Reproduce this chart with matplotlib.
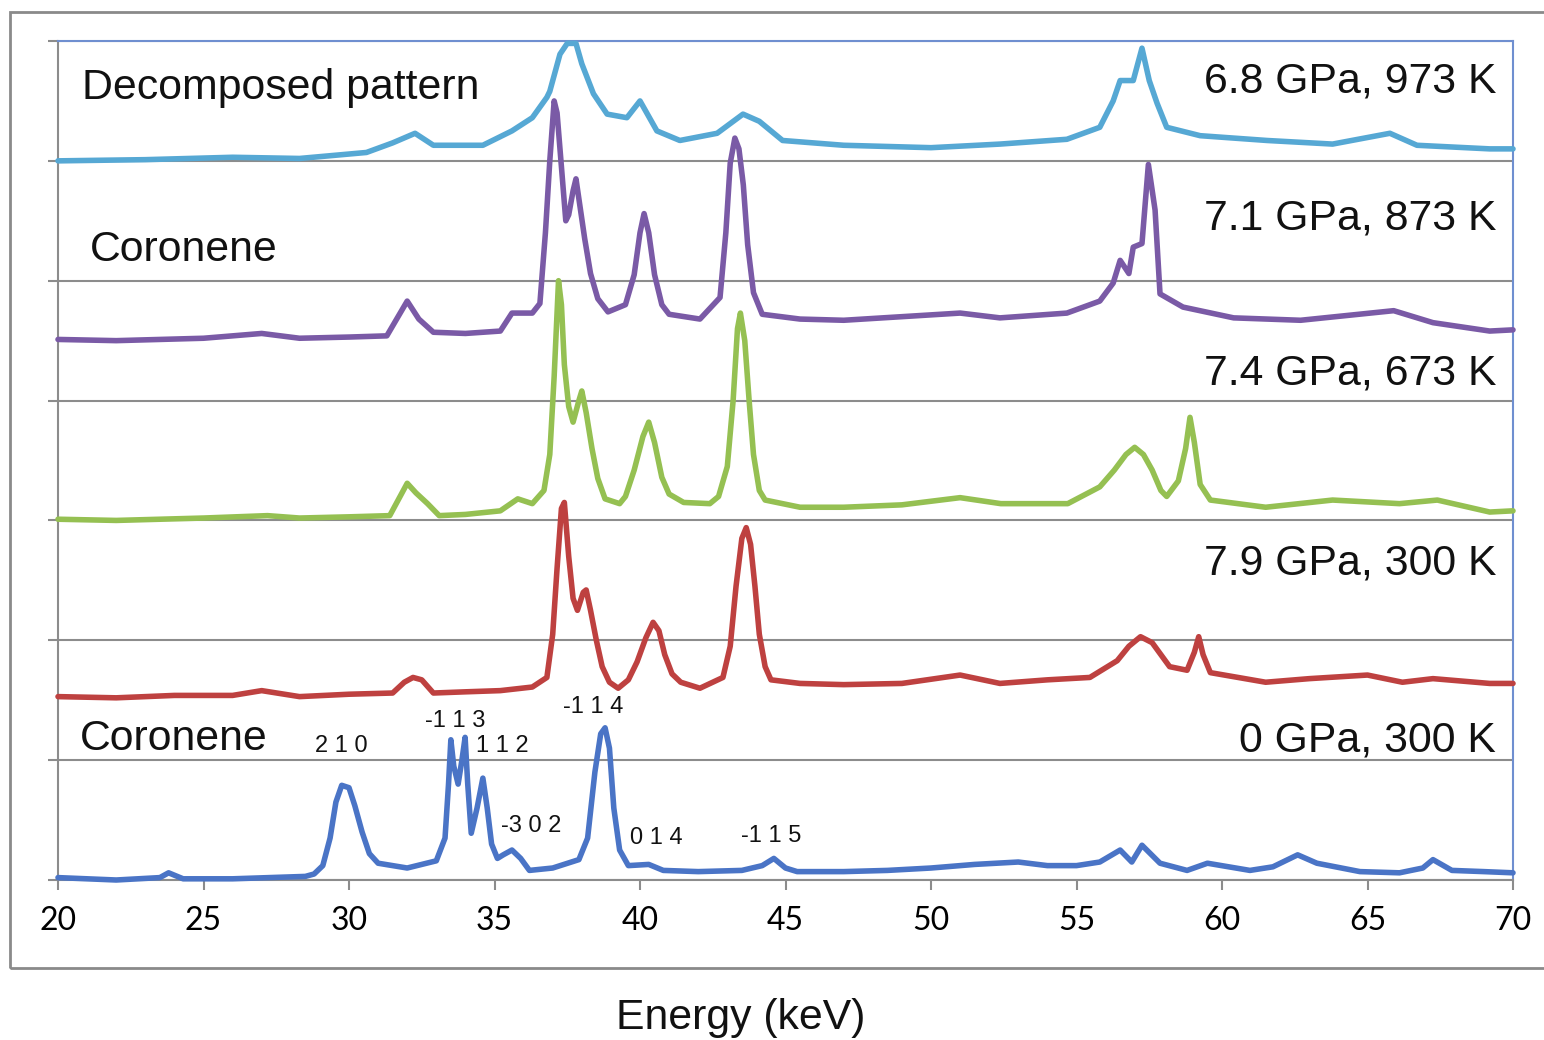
import matplotlib.pyplot as plt
from matplotlib.patches import Rectangle

# Stacked energy-dispersive patterns of coronene (intensity in arbitrary units,
# each pattern shifted by its offset)

# 0 GPa, 300 K
e_0gpa = [20.0, 22.0, 23.5, 23.8, 24.3, 26.0, 28.5, 28.8, 29.1, 29.35, 29.55, 29.75,
          30.0, 30.2, 30.45, 30.7, 31.0, 32.0, 33.0, 33.3, 33.42, 33.5, 33.6, 33.75,
          33.88, 33.99, 34.08, 34.2, 34.4, 34.6, 34.75, 34.9, 35.1, 35.3, 35.6, 35.9,
          36.2, 37.0, 37.9, 38.2, 38.45, 38.65, 38.8, 38.95, 39.1, 39.3, 39.6, 40.3,
          40.8, 42.0, 43.5, 44.2, 44.6, 45.0, 45.4, 47.0, 48.5, 50.0, 51.5, 53.0,
          54.0, 55.0, 55.8, 56.5, 56.9, 57.25, 57.87, 58.8, 59.5, 60.96, 61.75, 62.6,
          63.26, 64.74, 66.1, 66.9, 67.25, 67.9, 69.0, 70.0]
i_0gpa = [0.02, 0.00, 0.02, 0.06, 0.01, 0.01, 0.03, 0.05, 0.12, 0.35, 0.65, 0.79,
          0.77, 0.62, 0.40, 0.22, 0.14, 0.10, 0.16, 0.35, 0.80, 1.17, 0.95, 0.80,
          1.00, 1.19, 0.80, 0.39, 0.60, 0.85, 0.60, 0.30, 0.18, 0.21, 0.25, 0.18,
          0.08, 0.10, 0.17, 0.35, 0.90, 1.22, 1.27, 1.10, 0.60, 0.25, 0.12, 0.13,
          0.08, 0.07, 0.08, 0.12, 0.18, 0.10, 0.07, 0.07, 0.08, 0.10, 0.13, 0.15,
          0.12, 0.12, 0.15, 0.25, 0.15, 0.29, 0.14, 0.08, 0.14, 0.08, 0.11, 0.21,
          0.14, 0.07, 0.06, 0.10, 0.17, 0.08, 0.07, 0.06]

# 7.9 GPa, 300 K
e_79gpa = [20.0, 22.0, 24.0, 26.0, 27.0, 28.3, 30.0, 31.5, 31.9, 32.2, 32.5, 32.9,
           34.0, 35.2, 36.3, 36.8, 37.0, 37.15, 37.3, 37.4, 37.55, 37.7, 37.85, 38.05,
           38.15, 38.3, 38.5, 38.7, 38.95, 39.25, 39.6, 39.9, 40.2, 40.45, 40.65, 40.85,
           41.1, 41.4, 42.06, 42.85, 43.1, 43.3, 43.5, 43.65, 43.8, 43.95, 44.1, 44.3,
           44.5, 45.5, 47.0, 49.0, 51.0, 52.37, 54.0, 55.46, 56.4, 56.8, 57.2, 57.6,
           57.9, 58.2, 58.8, 59.05, 59.2, 59.35, 59.6, 61.5, 63.0, 65.0, 66.2, 67.25,
           69.2, 70.0]
i_79gpa = [0.03, 0.02, 0.04, 0.04, 0.08, 0.03, 0.05, 0.06, 0.15, 0.19, 0.17, 0.06,
           0.07, 0.08, 0.11, 0.19, 0.55, 1.10, 1.60, 1.65, 1.20, 0.85, 0.75, 0.90,
           0.92, 0.75, 0.50, 0.28, 0.15, 0.10, 0.17, 0.32, 0.52, 0.65, 0.58, 0.38,
           0.22, 0.15, 0.10, 0.19, 0.45, 0.95, 1.35, 1.44, 1.30, 0.95, 0.55, 0.28,
           0.17, 0.14, 0.13, 0.14, 0.21, 0.14, 0.17, 0.19, 0.33, 0.45, 0.53, 0.48,
           0.38, 0.28, 0.25, 0.40, 0.53, 0.38, 0.23, 0.15, 0.18, 0.21, 0.15, 0.18,
           0.14, 0.14]

# 7.4 GPa, 673 K
e_74gpa = [20.0, 22.0, 25.0, 27.2, 28.3, 30.0, 31.4, 32.0, 32.3, 32.7, 33.1, 34.0,
           35.2, 35.8, 36.3, 36.7, 36.9, 37.05, 37.2, 37.3, 37.4, 37.55, 37.7, 37.9,
           38.0, 38.15, 38.35, 38.55, 38.8, 39.3, 39.5, 39.8, 40.1, 40.3, 40.5, 40.75,
           41.0, 41.5, 42.4, 42.7, 43.0, 43.2, 43.35, 43.45, 43.6, 43.75, 43.9, 44.1,
           44.3, 45.5, 47.0, 49.0, 51.0, 52.4, 54.7, 55.8, 56.3, 56.7, 57.0, 57.3,
           57.6, 57.9, 58.1, 58.5, 58.75, 58.9, 59.05, 59.25, 59.6, 61.5, 63.8, 66.1,
           67.4, 69.2, 70.0]
i_74gpa = [0.01, 0.00, 0.02, 0.04, 0.02, 0.03, 0.04, 0.31, 0.23, 0.14, 0.04, 0.05,
           0.08, 0.18, 0.14, 0.25, 0.55, 1.20, 2.00, 1.80, 1.30, 0.95, 0.82, 1.00,
           1.08, 0.90, 0.60, 0.35, 0.18, 0.14, 0.20, 0.42, 0.70, 0.82, 0.65, 0.36,
           0.22, 0.15, 0.14, 0.20, 0.45, 1.00, 1.60, 1.73, 1.50, 1.00, 0.55, 0.25,
           0.17, 0.11, 0.11, 0.13, 0.19, 0.14, 0.14, 0.28, 0.42, 0.55, 0.61, 0.55,
           0.42, 0.25, 0.20, 0.33, 0.60, 0.86, 0.65, 0.30, 0.17, 0.11, 0.17, 0.14,
           0.17, 0.07, 0.08]

# 7.1 GPa, 873 K
e_71gpa = [20.0, 22.0, 25.0, 27.0, 28.3, 30.0, 31.3, 32.0, 32.4, 32.9, 34.0, 35.2,
           35.6, 36.3, 36.56, 36.75, 36.9, 37.05, 37.15, 37.3, 37.45, 37.55, 37.7, 37.8,
           37.95, 38.1, 38.3, 38.55, 38.9, 39.5, 39.8, 40.0, 40.14, 40.3, 40.5, 40.75,
           41.0, 42.06, 42.75, 42.95, 43.1, 43.26, 43.4, 43.55, 43.7, 43.9, 44.2, 45.5,
           47.0, 49.0, 51.0, 52.37, 54.67, 55.8, 56.26, 56.5, 56.8, 56.95, 57.25, 57.47,
           57.7, 57.87, 58.66, 60.4, 62.7, 65.9, 67.25, 69.2, 70.0]
i_71gpa = [0.01, 0.00, 0.02, 0.06, 0.02, 0.03, 0.04, 0.33, 0.18, 0.07, 0.06, 0.08,
           0.23, 0.23, 0.31, 0.90, 1.50, 2.00, 1.90, 1.45, 1.00, 1.05, 1.25, 1.35,
           1.10, 0.85, 0.56, 0.35, 0.24, 0.30, 0.55, 0.90, 1.06, 0.90, 0.55, 0.30,
           0.22, 0.18, 0.36, 0.90, 1.48, 1.69, 1.60, 1.30, 0.80, 0.40, 0.22, 0.18,
           0.17, 0.20, 0.23, 0.19, 0.23, 0.33, 0.48, 0.67, 0.56, 0.78, 0.81, 1.47,
           1.09, 0.39, 0.28, 0.19, 0.17, 0.25, 0.15, 0.08, 0.09]

# 6.8 GPa, 973 K (decomposed)
e_68gpa = [20.0, 23.0, 26.0, 28.3, 30.6, 31.5, 32.27, 32.9, 34.6, 35.6, 36.3, 36.8,
           36.9, 37.25, 37.5, 37.8, 38.0, 38.4, 38.87, 39.55, 40.0, 40.58, 41.37, 42.65,
           43.54, 44.1, 44.9, 47.0, 50.0, 52.37, 54.67, 55.8, 56.26, 56.5, 56.95, 57.25,
           57.5, 57.77, 58.1, 59.25, 61.55, 63.8, 65.77, 66.7, 69.2, 70.0]
i_68gpa = [0.00, 0.01, 0.03, 0.02, 0.07, 0.15, 0.23, 0.13, 0.13, 0.25, 0.36, 0.53,
           0.58, 0.89, 0.98, 0.98, 0.81, 0.56, 0.39, 0.36, 0.50, 0.25, 0.17, 0.23,
           0.39, 0.33, 0.17, 0.13, 0.11, 0.14, 0.18, 0.28, 0.50, 0.67, 0.67, 0.94,
           0.67, 0.48, 0.28, 0.21, 0.17, 0.14, 0.23, 0.13, 0.10, 0.10]

offsets = [0.0, 1.5, 3.0, 4.5, 6.0]
conditions = ["0 GPa, 300 K", "7.9 GPa, 300 K", "7.4 GPa, 673 K",
              "7.1 GPa, 873 K", "6.8 GPa, 973 K"]
colors = ["#4A74C6", "#BE4140", "#95C052", "#7A5AA6", "#56A8D4"]

# Miller indices of the ambient pattern
hkl_labels = ["2 1 0", "-1 1 3", "1 1 2", "-3 0 2", "-1 1 4", "0 1 4", "-1 1 5"]
hkl_x = [29.73, 33.64, 35.26, 36.25, 38.38, 40.55, 44.5]
hkl_y = [1.12, 1.33, 1.12, 0.45, 1.44, 0.35, 0.37]

W, H = 1544, 1040
fig = plt.figure(figsize=(W / 100, H / 100), dpi=100)
fig.patch.set_facecolor("white")
ax = fig.add_axes([58 / W, 1 - 880 / H, (1513 - 58) / W, (880 - 41) / H])

series = [(e_68gpa, i_68gpa, 4), (e_71gpa, i_71gpa, 3), (e_74gpa, i_74gpa, 2),
          (e_79gpa, i_79gpa, 1), (e_0gpa, i_0gpa, 0)]
for e, inten, k in series:
    ax.plot(e, [v + offsets[k] for v in inten], color=colors[k],
            linewidth=4.0, solid_joinstyle="round", solid_capstyle="round",
            zorder=3, clip_on=False)

ax.set_xlim(20, 70)
ax.set_ylim(0, 7)
ax.set_xticks(range(20, 71, 5))
ax.set_yticks(range(0, 8))
ax.set_yticklabels([])
ax.grid(True, axis="y", color="#8C8C8C", linewidth=1.5, zorder=1)
ax.set_axisbelow(True)
ax.tick_params(axis="x", direction="out", length=7, width=1.5, color="#8C8C8C",
               labelsize=23, pad=12)
ax.tick_params(axis="y", direction="out", length=7, width=1.5, color="#8C8C8C")
for lbl in ax.get_xticklabels():
    lbl.set_fontfamily("Lato")

for side in ["left", "bottom"]:
    ax.spines[side].set_color("#8C8C8C")
    ax.spines[side].set_linewidth(1.5)
for side in ["top", "right"]:
    ax.spines[side].set_color("#6F8FD0")
    ax.spines[side].set_linewidth(1.5)

# Condition labels, right aligned
cond_y = [1.16, 2.64, 4.23, 5.52, 6.66]
for k, txt in enumerate(conditions):
    ax.text(69.42, cond_y[k], txt, ha="right", va="center", fontsize=30.8,
            family="Liberation Sans", color="#111111")

ax.text(20.82, 6.61, "Decomposed pattern", ha="left", va="center", fontsize=30.8,
        family="Liberation Sans", color="#111111")
ax.text(21.1, 5.26, "Coronene", ha="left", va="center", fontsize=30.8,
        family="Liberation Sans", color="#111111")
ax.text(20.76, 1.18, "Coronene", ha="left", va="center", fontsize=30.8,
        family="Liberation Sans", color="#111111")

for txt, x, y in zip(hkl_labels, hkl_x, hkl_y):
    ax.text(x, y, txt, ha="center", va="center", fontsize=17,
            family="Liberation Sans", color="#111111")

fig.text(741 / W, 1 - 1018 / H, "Energy (keV)", ha="center", va="center",
         fontsize=30.8, family="Liberation Sans", color="#111111")

# outer chart frame
fig.patches.append(Rectangle((10 / W, 1 - 968 / H), 1.05, (968 - 12) / H,
                             transform=fig.transFigure, fill=False,
                             edgecolor="#8A8A8A", linewidth=2.0))

fig.savefig("out.png", dpi=100)
print("Saved: out.png")
